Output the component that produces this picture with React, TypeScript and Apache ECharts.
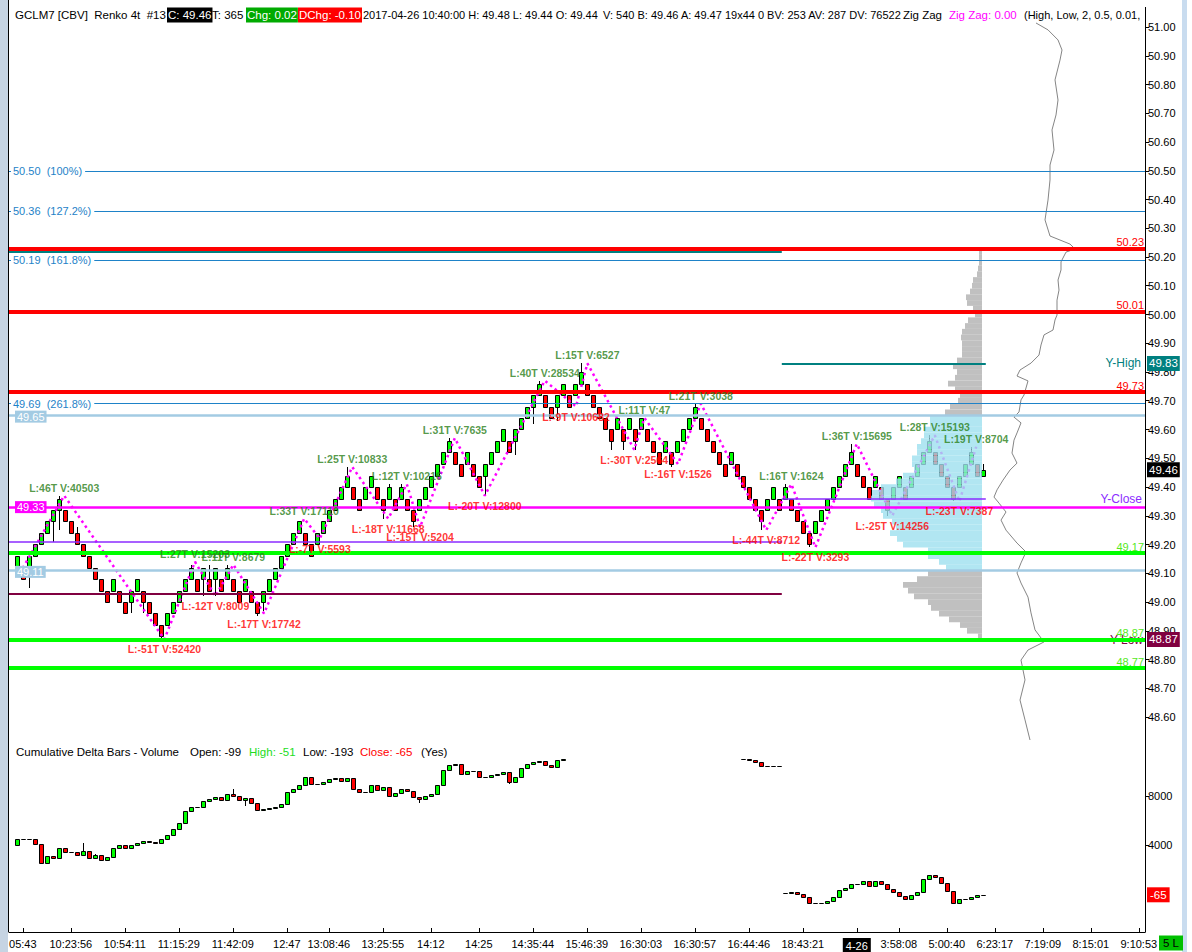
import React, { useEffect, useRef } from "react";
import * as echarts from "echarts";

const FONT = '"Liberation Sans", Arial, sans-serif';

// ---------------- data: price panel ----------------
const priceTicks = [51.0, 50.9, 50.8, 50.7, 50.6, 50.5, 50.4, 50.3, 50.2, 50.1, 50.0, 49.9, 49.8, 49.7, 49.6, 49.5, 49.4, 49.3, 49.2, 49.1, 49.0, 48.9, 48.8, 48.7, 48.6];

const BRICK = 0.04; // Renko 4 ticks
const firstOpen = 49.12;
const brickCloses = [
  49.16, 49.08, 49.16, 49.20, 49.24, 49.28, 49.32, 49.36, 49.28, 49.24,
  49.20, 49.16, 49.12, 49.08, 49.04, 49.00, 49.08, 49.00, 48.96, 49.04,
  49.08, 49.00, 48.96, 48.92, 48.88, 48.96, 49.00, 49.04, 49.08, 49.12,
  49.04, 49.12, 49.04, 49.12, 49.04, 49.12, 49.04, 49.00, 49.08, 49.00,
  48.96, 49.04, 49.08, 49.12, 49.16, 49.20, 49.24, 49.28, 49.20, 49.16,
  49.24, 49.28, 49.32, 49.36, 49.40, 49.44, 49.36, 49.32, 49.40, 49.44,
  49.36, 49.32, 49.40, 49.32, 49.40, 49.32, 49.28, 49.36, 49.40, 49.44,
  49.48, 49.52, 49.56, 49.48, 49.44, 49.52, 49.44, 49.40, 49.48, 49.52,
  49.56, 49.60, 49.52, 49.60, 49.64, 49.68, 49.72, 49.76, 49.68, 49.64,
  49.72, 49.76, 49.68, 49.76, 49.80, 49.72, 49.68, 49.64, 49.60, 49.56,
  49.64, 49.56, 49.64, 49.56, 49.64, 49.56, 49.52, 49.48, 49.56, 49.48,
  49.56, 49.60, 49.64, 49.68, 49.60, 49.56, 49.52, 49.48, 49.44, 49.52,
  49.44, 49.40, 49.36, 49.32, 49.28, 49.36, 49.40, 49.32, 49.40, 49.32,
  49.28, 49.24, 49.20, 49.28, 49.32, 49.36, 49.40, 49.44, 49.48, 49.52,
  49.44, 49.40, 49.36, 49.44, 49.36, 49.32, 49.40, 49.44, 49.36, 49.44,
  49.48, 49.52, 49.56, 49.48, 49.44, 49.40, 49.36, 49.44, 49.48, 49.52,
  49.44,
];
const lastBar = { open: 49.44, high: 49.48, low: 49.44, close: 49.46 };
const wickHigh = [[8, 49.37], [11, 49.26], [30, 49.13], [33, 49.13], [36, 49.13], [56, 49.47], [63, 49.41], [65, 49.41], [73, 49.57], [88, 49.77], [95, 49.83], [114, 49.69], [129, 49.41], [140, 49.55], [153, 49.58], [160, 49.54]];
const wickLow = [[3, 49.05], [7, 49.21], [8, 49.25], [20, 48.96], [22, 48.96], [25, 48.87], [32, 49.02], [34, 49.02], [41, 48.95], [42, 48.97], [62, 49.29], [67, 49.26], [79, 49.37], [84, 49.51], [87, 49.62], [91, 49.63], [100, 49.53], [102, 49.53], [104, 49.53], [110, 49.47], [125, 49.25], [133, 49.19], [146, 49.30], [157, 49.35]];

// zig zag swing points (bar position, price, label)
const zzIdx = [1.5, 8.9, 25.6, 30.7, 34.1, 37.1, 42.2, 48.9, 51.5, 56.9, 62.9, 66.0, 68.2, 74.0, 79.0, 89.0, 94.2, 96.1, 103.9, 105.6, 111.2, 115.0, 125.9, 130.1, 134.1, 141.0, 146.9, 154.0, 158.1, 160.9];
const zzPrice = [49.10, 49.37, 48.87, 49.14, 49.02, 49.13, 48.96, 49.29, 49.22, 49.47, 49.29, 49.41, 49.26, 49.57, 49.37, 49.77, 49.68, 49.83, 49.53, 49.64, 49.48, 49.69, 49.25, 49.41, 49.19, 49.55, 49.30, 49.58, 49.35, 49.54];
const zzText = ["", "L:46T V:40503", "L:-51T V:52420", "L:27T V:15203", "L:-12T V:8009", "L:11T V:8679", "L:-17T V:17742", "L:33T V:17110", "L:-7T V:5593", "L:25T V:10833", "L:-18T V:11668", "L:12T V:10216", "L:-15T V:5204", "L:31T V:7635", "L:-20T V:12800", "L:40T V:28534", "L:-9T V:10682", "L:15T V:6527", "L:-30T V:2564", "L:11T V:47", "L:-16T V:1526", "L:21T V:3038", "L:-44T V:8712", "L:16T V:1624", "L:-22T V:3293", "L:36T V:15695", "L:-25T V:14256", "L:28T V:15193", "L:-23T V:7387", "L:19T V:8704"];

// levels
const fibLevels = [50.50, 50.36, 50.19, 49.69];
const fibPct = ["100%", "127.2%", "161.8%", "261.8%"];
const redLevels = [50.23, 50.01, 49.73];
const greenLevels = [49.17, 48.87, 48.77];
const VAH = 49.65;
const VAL = 49.11;
const magentaLevel = 49.33;
const priorTeal = 50.22;
const priorPurple = 49.21;
const priorMaroon = 49.03;
const yHigh = 49.83;
const yClose = 49.36;
const yLow = 48.87;
const lastPrice = 49.46;

// volume profile
const PROFILE_STEP = 0.02;
const profilePrice = [
  50.22, 50.20, 50.18, 50.16, 50.14, 50.12, 50.10, 50.08, 50.06, 50.04,
  50.02, 50.00, 49.98, 49.96, 49.94, 49.92, 49.90, 49.88, 49.86, 49.84,
  49.82, 49.80, 49.78, 49.76, 49.74, 49.72, 49.70, 49.68, 49.66, 49.64,
  49.62, 49.60, 49.58, 49.56, 49.54, 49.52, 49.50, 49.48, 49.46, 49.44,
  49.42, 49.40, 49.38, 49.36, 49.34, 49.32, 49.30, 49.28, 49.26, 49.24,
  49.22, 49.20, 49.18, 49.16, 49.14, 49.12, 49.10, 49.08, 49.06, 49.04,
  49.02, 49.00, 48.98, 48.96, 48.94, 48.92, 48.90, 48.88,
];
const profileVol = [
  3, 3, 3, 4, 5, 9, 10, 12, 16, 15,
  9, 7, 14, 17, 20, 21, 20, 20, 20, 25,
  29, 25, 27, 34, 27, 22, 24, 32, 37, 52,
  52, 58, 58, 61, 65, 65, 70, 70, 68, 79,
  86, 101, 110, 111, 108, 101, 99, 90, 86, 92,
  85, 79, 54, 54, 43, 36, 54, 65, 79, 74,
  68, 54, 51, 43, 33, 22, 15, 4,
];

// right-hand line study (horizontal position, price)
const squiggleX = [1036, 1048, 1058, 1062, 1060, 1055, 1058, 1056, 1052, 1054, 1050, 1050, 1048, 1045, 1050, 1070, 1075, 1066, 1061, 1061, 1058, 1059, 1057, 1057, 1055, 1053, 1044, 1041, 1039, 1031, 1020, 1017, 1028, 1024, 1021, 1019, 1014, 1021, 1017, 1014, 1012, 1017, 1010, 1003, 997, 994, 999, 1006, 1001, 1006, 1017, 1026, 1021, 1017, 1021, 1028, 1031, 1035, 1044, 1028, 1021, 1025, 1020, 1025, 1030];
const squiggleP = [51.014, 50.990, 50.955, 50.920, 50.885, 50.816, 50.746, 50.694, 50.642, 50.572, 50.520, 50.468, 50.398, 50.329, 50.273, 50.245, 50.228, 50.217, 50.183, 50.155, 50.120, 50.085, 50.050, 49.998, 49.981, 49.946, 49.929, 49.894, 49.859, 49.831, 49.807, 49.786, 49.769, 49.720, 49.703, 49.661, 49.643, 49.623, 49.588, 49.563, 49.518, 49.483, 49.459, 49.424, 49.390, 49.365, 49.344, 49.313, 49.285, 49.250, 49.205, 49.174, 49.136, 49.101, 49.066, 49.017, 48.962, 48.903, 48.861, 48.833, 48.798, 48.729, 48.659, 48.590, 48.520];

// ---------------- data: cumulative delta panel ----------------
const deltaTicks = [4000, 8000];
const deltaClose = [
  4470, 4490, 4450, 4080, 2500, 3100, 2920, 3730, 3460, 3460,
  3160, 3510, 2970, 3160, 2780, 3000, 3790, 3980, 3790, 3980,
  4200, 4300, 4280, 4150, 4520, 4850, 5290, 5780, 6760, 7090,
  7140, 7630, 7740, 7900, 7690, 8180, 8010, 7690, 7820, 7410,
  6870, 6920, 7000, 7090, 7360, 8310, 8590, 8860, 9540, 9000,
  9000, 9130, 9410, 9510, 9220, 9460, 8560, 8340, 8340, 8880,
  8500, 8700, 7990, 8210, 8610, 8420, 7880, 7770, 8000, 8180,
  8860, 10140, 10490, 10600, 9810, 10060, 10060, 9540, 9590, 9730,
  9810, 9950, 9130, 9540, 10280, 10600, 10740, 10880, 10550, 10330,
  10930, 11040,
  null, null, null, null, null, null, null, null, null, null,
  null, null, null, null, null, null, null, null, null, null,
  null, null, null, null, null, null, null, null, null,
  11000, 10960, 10800, 10450, 10450, 10420, 10450,
  80, 140, -20, -270, -710, -710, -760, -590, -270, 300,
  460, 790, 790, 1060, 680, 1060, 790, 380, 140, -190,
  -430, -110, 140, 1200, 1530, 1370, 880, 220, -760, -430,
  -380, -270, -110, -65,
];
const deltaOpenOverride = [[1, 3980], [122, 11000], [129, 80], [162, -99]];
const deltaWick = [[12, 3160, 4140], [37, 8010, 8570], [39, 7180, 7820], [68, 7400, 7880], [79, 9440, 9590], [83, 8980, 10000], [14, 2980, 3250]];
const deltaLast = -65;

// ---------------- time axis ----------------
const xTickIdx = [2, 10, 19, 28, 37, 46, 53, 62, 70, 78, 87, 96, 105, 114, 123, 132, 141, 148, 156, 164, 172, 180, 188];
const xTickText = ["05:43", "10:23:56", "10:54:11", "11:15:29", "11:42:09", "12:47", "13:08:46", "13:25:55", "14:12", "14:25", "14:35:44", "15:46:39", "16:30:03", "16:30:57", "16:44:46", "18:43:21", "4-26", "3:58:08", "5:00:40", "6:23:17", "7:19:09", "8:15:01", "9:10:53"];

// ---------------- layout ----------------
const W = 1192;
const H = 952;
const PLOT_L = 9;
const PLOT_R = 1145;
const PRICE_TOP = 10;
const PRICE_BOT = 742;
const REF_PRICE = 51;
const REF_Y = 27;
const PX_PER_UNIT = 287.5;
const priceMax = REF_PRICE + (REF_Y - PRICE_TOP) / PX_PER_UNIT;
const priceMin = REF_PRICE - (PRICE_BOT - REF_Y) / PX_PER_UNIT;
const BAR_PX = 6;
const FIRST_BAR_X = 16.8;
const xMin = 1 - (FIRST_BAR_X - PLOT_L) / BAR_PX;
const xMax = xMin + (PLOT_R - PLOT_L) / BAR_PX;
const SESSION_SPLIT = 128.5;
const SESSION_END = 162.5;
const PROFILE_RIGHT = 982;
const DELTA_TOP = 745;
const DELTA_BOT = 932;
const DELTA_REF_V = 8000;
const DELTA_REF_Y = 796;
const DELTA_PX = 12.25 / 1000;
const deltaMax = DELTA_REF_V + (DELTA_REF_Y - DELTA_TOP) / DELTA_PX;
const deltaMin = DELTA_REF_V - (DELTA_BOT - DELTA_REF_Y) / DELTA_PX;

const UP = "#00ff00";
const DOWN = "#ff0000";
const FIB = "#1e82c8";
const VA_BLUE = "#a3cbe3";
const MAGENTA = "#ff00ff";
const PURPLE = "#8b2bff";
const MAROON = "#800040";
const TEAL = "#008080";
const LIME_TXT = "#55e81a";
const HIGH_TXT = "#2a8018";
const CLEAR = "rgba(0,0,0,0)";

const r2 = (v: number) => Math.round(v * 100) / 100;

function buildPriceBars() {
  const bars: number[][] = [];
  brickCloses.forEach((c, k) => {
    const o = k === 0 ? firstOpen : r2(c > brickCloses[k - 1] ? c - BRICK : c + BRICK);
    bars.push([k + 1, o, c, Math.min(o, c), Math.max(o, c)]);
  });
  bars.push([brickCloses.length + 1, lastBar.open, lastBar.close, lastBar.low, lastBar.high]);
  wickHigh.forEach(([i, p]) => { const b = bars[i - 1]; b[4] = Math.max(b[4], p); });
  wickLow.forEach(([i, p]) => { const b = bars[i - 1]; b[3] = Math.min(b[3], p); });
  return bars;
}

function buildDeltaBars() {
  const bars: number[][] = [];
  deltaClose.forEach((c, k) => {
    if (c === null) return;
    const idx = k + 1;
    const ov = deltaOpenOverride.find((d) => d[0] === idx);
    const prev = k > 0 ? deltaClose[k - 1] : null;
    const o = ov ? ov[1] : (prev === null ? c : prev);
    let lo = Math.min(o, c as number);
    let hi = Math.max(o, c as number);
    const w = deltaWick.find((d) => d[0] === idx);
    if (w) { lo = Math.min(lo, w[1]); hi = Math.max(hi, w[2]); }
    bars.push([idx, o, c as number, lo, hi]);
  });
  return bars;
}

function candleRenderer(params: any, api: any) {
  const i = api.value(0), o = api.value(1), c = api.value(2), lo = api.value(3), hi = api.value(4);
  const pO = api.coord([i, o]);
  const pC = api.coord([i, c]);
  const pL = api.coord([i, lo]);
  const pH = api.coord([i, hi]);
  const cx = Math.round(pO[0]);
  const yT = Math.round(Math.min(pO[1], pC[1]));
  const yB = Math.round(Math.max(pO[1], pC[1]));
  return {
    type: "group",
    children: [
      { type: "line", shape: { x1: cx + 0.5, y1: Math.round(pH[1]), x2: cx + 0.5, y2: Math.round(pL[1]) }, style: { stroke: "#000", lineWidth: 1 } },
      { type: "rect", shape: { x: cx - 1.5, y: yT + 0.5, width: 4, height: Math.max(yB - yT, 0) }, style: { fill: c >= o ? UP : DOWN, stroke: "#000", lineWidth: 1 } },
    ],
  };
}

function profileRenderer(params: any, api: any) {
  const v = api.value(0), p = api.value(1);
  const a = api.coord([v, p + PROFILE_STEP / 2]);
  const b = api.coord([0, p - PROFILE_STEP / 2]);
  const inVA = p - PROFILE_STEP / 2 >= VAL - 1e-6 && p + PROFILE_STEP / 2 <= VAH + 1e-6;
  return {
    type: "rect",
    shape: { x: a[0], y: a[1], width: b[0] - a[0], height: b[1] - a[1] },
    style: { fill: inVA ? "#9de0ef" : "#b0b0b0", opacity: 0.8 },
  };
}

const hline = (p: number, color: string, width: number, label?: any) => ({
  yAxis: p,
  lineStyle: { color, width, type: "solid" },
  label: label || { show: false },
});
const seg = (x1: number, x2: number, p: number, color: string, width: number) => [
  { coord: [x1, p], lineStyle: { color, width, type: "solid" }, label: { show: false } },
  { coord: [x2, p] },
];
const levelLabel = (p: number, color: string) => ({
  show: true, position: "insideEndTop", formatter: p.toFixed(2), color, fontSize: 11, fontFamily: FONT, distance: 1,
});
const axisBox = (p: number, bg: string, text: string) => ({
  yAxis: p,
  lineStyle: { color: CLEAR, width: 1, type: "solid" },
  label: { show: true, position: "end", formatter: text, color: "#fff", backgroundColor: bg, padding: [2, 2, 1, 2], fontSize: 11.5, fontFamily: FONT, distance: 2 },
});

function buildOption() {
  const priceBars = buildPriceBars();
  const deltaBars = buildDeltaBars();
  const markData: any[] = [
    ...fibLevels.map((p) => hline(p, FIB, 1)),
    hline(VAH, VA_BLUE, 2.5),
    hline(VAL, VA_BLUE, 2.5),
    seg(xMin, SESSION_SPLIT, priorTeal, TEAL, 2),
    seg(xMin, SESSION_SPLIT, priorPurple, PURPLE, 1.5),
    seg(xMin, SESSION_SPLIT, priorMaroon, MAROON, 2),
    seg(SESSION_SPLIT, SESSION_END, yHigh, TEAL, 2),
    seg(SESSION_SPLIT, SESSION_END, yClose, PURPLE, 1.5),
    hline(magentaLevel, MAGENTA, 2.5),
    ...redLevels.map((p) => hline(p, "#ff0000", 4, levelLabel(p, "#ff0000"))),
    ...greenLevels.map((p) => hline(p, "#00ff00", 4, levelLabel(p, LIME_TXT))),
    axisBox(yHigh, TEAL, yHigh.toFixed(2)),
    axisBox(lastPrice, "#000", lastPrice.toFixed(2)),
    axisBox(yLow, MAROON, yLow.toFixed(2)),
  ];
  const axisFont = { color: "#000", fontSize: 11, fontFamily: FONT };
  return {
    animation: false,
    backgroundColor: "#fff",
    grid: [
      { left: PLOT_L, right: W - PLOT_R, top: PRICE_TOP, height: PRICE_BOT - PRICE_TOP },
      { left: PLOT_L, right: W - PROFILE_RIGHT, top: PRICE_TOP, height: PRICE_BOT - PRICE_TOP },
      { left: PLOT_L, right: W - PLOT_R, top: DELTA_TOP, height: DELTA_BOT - DELTA_TOP },
    ],
    xAxis: [
      { gridIndex: 0, type: "value", min: xMin, max: xMax, show: false },
      { gridIndex: 1, type: "value", min: 0, max: PROFILE_RIGHT - PLOT_L, inverse: true, show: false },
      { gridIndex: 0, type: "value", min: PLOT_L, max: PLOT_R, show: false },
      {
        gridIndex: 2, type: "value", min: xMin, max: xMax, position: "bottom",
        axisLine: { show: true, onZero: false, lineStyle: { color: "#000", width: 1 } },
        axisTick: { show: true, inside: true, length: 4, customValues: xTickIdx, lineStyle: { color: "#000" } },
        axisLabel: {
          ...axisFont, margin: 6, customValues: xTickIdx,
          formatter: (v: number) => {
            const k = xTickIdx.findIndex((t) => Math.abs(t - v) < 1e-6);
            const s = k >= 0 ? xTickText[k] : "";
            return s === "4-26" ? "{d|4-26}" : s;
          },
          rich: { d: { backgroundColor: "#000", color: "#fff", padding: [2, 3, 1, 3], fontSize: 11, fontFamily: FONT } },
        },
        splitLine: { show: false },
      },
    ],
    yAxis: [
      {
        gridIndex: 0, type: "value", position: "right", min: priceMin, max: priceMax,
        axisLine: { show: true, onZero: false, lineStyle: { color: "#000" } },
        axisTick: { show: true, customValues: priceTicks, length: 4, lineStyle: { color: "#000" } },
        axisLabel: { ...axisFont, margin: 3, customValues: priceTicks, formatter: (v: number) => v.toFixed(2) },
        splitLine: { show: false },
      },
      { gridIndex: 1, type: "value", min: priceMin, max: priceMax, show: false },
      {
        gridIndex: 2, type: "value", position: "right", min: deltaMin, max: deltaMax,
        axisLine: { show: true, onZero: false, lineStyle: { color: "#000" } },
        axisTick: { show: true, customValues: deltaTicks, length: 4, lineStyle: { color: "#000" } },
        axisLabel: { ...axisFont, margin: 3, customValues: deltaTicks, formatter: (v: number) => String(Math.round(v)) },
        splitLine: { show: false },
      },
    ],
    series: [
      { type: "custom", name: "bars", xAxisIndex: 0, yAxisIndex: 0, z: 2, renderItem: candleRenderer, data: priceBars, encode: { x: 0, y: [1, 2, 3, 4] }, silent: true },
      {
        type: "line", name: "zigzag", xAxisIndex: 0, yAxisIndex: 0, z: 2, symbol: "none", silent: true,
        data: zzIdx.map((x, k) => [x, zzPrice[k]]),
        lineStyle: { color: MAGENTA, width: 2.5, type: [2.5, 3.5] },
      },
      { type: "custom", name: "profile", xAxisIndex: 1, yAxisIndex: 1, z: 3, renderItem: profileRenderer, data: profilePrice.map((p, k) => [profileVol[k], p]), silent: true },
      {
        type: "line", name: "levels", xAxisIndex: 0, yAxisIndex: 0, z: 4, data: [], silent: true,
        markLine: { silent: true, symbol: ["none", "none"], animation: false, data: markData },
      },
      {
        type: "line", name: "study", xAxisIndex: 2, yAxisIndex: 0, z: 4, symbol: "none", silent: true,
        data: squiggleX.map((x, k) => [x, squiggleP[k]]),
        lineStyle: { color: "#858585", width: 1 },
      },
      {
        type: "scatter", name: "zzLabels", xAxisIndex: 0, yAxisIndex: 0, z: 6, symbolSize: 1, silent: true,
        itemStyle: { color: CLEAR },
        data: zzIdx.map((x, k) => {
          const low = zzText[k].includes("-");
          return {
            value: [x, zzPrice[k]],
            label: {
              show: zzText[k] !== "", formatter: zzText[k], position: low ? "bottom" : "top", distance: low ? 4 : 2,
              color: low ? "#ff0000" : HIGH_TXT, fontSize: 10.5, fontWeight: "bold", fontFamily: FONT,
            },
          };
        }),
      },
      { type: "custom", name: "delta", xAxisIndex: 3, yAxisIndex: 2, z: 2, renderItem: candleRenderer, data: deltaBars, encode: { x: 0, y: [1, 2, 3, 4] }, silent: true },
      {
        type: "line", name: "deltaLast", xAxisIndex: 3, yAxisIndex: 2, z: 4, data: [], silent: true,
        markLine: {
          silent: true, symbol: ["none", "none"], animation: false,
          data: [{
            yAxis: deltaLast, lineStyle: { color: CLEAR, width: 1, type: "solid" },
            label: { show: true, position: "end", formatter: String(deltaLast), color: "#fff", backgroundColor: "#ff0000", padding: [2, 3, 1, 3], fontSize: 11.5, fontFamily: FONT, distance: 2 },
          }],
        },
      },
    ],
  };
}

function text(x: number, y: number, t: string, fill: string, o: any = {}) {
  return {
    type: "text", x, y, z: o.z ?? 100,
    style: {
      text: t, fill, font: `${o.weight || "normal"} ${o.size || 12}px ${FONT}`,
      align: o.align || "left", verticalAlign: "middle",
      backgroundColor: o.bg, padding: o.pad,
    },
  };
}

function buildGraphics(py: (p: number) => number) {
  const g: any[] = [];
  g.push({ type: "rect", z: 100, shape: { x: 0, y: 0, width: 8, height: H }, style: { fill: "#c6d4e3" } });
  g.push({ type: "line", z: 100, shape: { x1: 8.5, y1: 0, x2: 8.5, y2: DELTA_BOT }, style: { stroke: "#000", lineWidth: 1 } });
  g.push({ type: "line", z: 100, shape: { x1: PLOT_R + 0.5, y1: 7, x2: PLOT_R + 0.5, y2: DELTA_BOT }, style: { stroke: "#000", lineWidth: 1 } });
  g.push({ type: "rect", z: 100, shape: { x: 1182, y: 0, width: 5, height: H }, style: { fill: "#c9dcef" } });

  // header
  const HY = 15;
  const HS = 11.5;
  g.push(text(15, HY, "GCLM7 [CBV]  Renko 4t  #13", "#000", { size: HS }));
  g.push(text(167, HY, "C: 49.46", "#fff", { size: HS, bg: "#000", pad: [2, 1, 1, 1] }));
  g.push(text(212, HY, "T: 365", "#000", { size: HS }));
  g.push(text(246, HY, "Chg: 0.02", "#fff", { size: HS, bg: "#00aa00", pad: [2, 1, 1, 1] }));
  g.push(text(298, HY, "DChg: -0.10", "#fff", { size: HS, bg: "#ff0000", pad: [2, 1, 1, 1] }));
  g.push(text(363, HY, "2017-04-26 10:40:00 H: 49.48 L: 49.44 O: 49.44", "#000", { size: 11 }));
  g.push(text(603, HY, "V: 540 B: 49.46 A: 49.47 19x44 0 BV: 253 AV: 287 DV: 76522", "#000", { size: 11 }));
  g.push(text(903, HY, "Zig Zag", "#000", { size: HS }));
  g.push(text(949, HY, "Zig Zag: 0.00", MAGENTA, { size: HS }));
  g.push(text(1024, HY, "(High, Low, 2, 0.5, 0.01,", "#000", { size: 11 }));

  // delta header
  const DY = 752;
  g.push(text(16, DY, "Cumulative Delta Bars - Volume", "#000", { size: 11.5 }));
  g.push(text(190, DY, "Open: -99", "#000", { size: 11.5 }));
  g.push(text(249, DY, "High: -51", "#22dd22", { size: 11.5 }));
  g.push(text(303, DY, "Low: -193", "#000", { size: 11.5 }));
  g.push(text(360, DY, "Close: -65", "#ff0000", { size: 11.5 }));
  g.push(text(421, DY, "(Yes)", "#000", { size: 11.5 }));

  // bottom-right status box
  g.push(text(1159, 943, "5 L", "#000", { size: 11.5, bg: "#00c000", pad: [2, 4, 1, 4] }));

  // fib labels
  fibLevels.forEach((p, k) => {
    g.push(text(11, py(p), `${p.toFixed(2)}  (${fibPct[k]})`, FIB, { size: 11, bg: "#fff", pad: [0, 3, 0, 2], z: 50 }));
  });
  // left boxes
  g.push(text(15, py(VAH) + 1.5, VAH.toFixed(2), "#fff", { size: 11, bg: VA_BLUE, pad: [1, 2, 0, 2], z: 50 }));
  g.push(text(15, py(VAL) + 1.5, VAL.toFixed(2), "#fff", { size: 11, bg: VA_BLUE, pad: [1, 2, 0, 2], z: 50 }));
  g.push(text(15, py(magentaLevel), magentaLevel.toFixed(2), "#fff", { size: 11, bg: MAGENTA, pad: [1, 2, 0, 2], z: 50 }));
  // right labels
  g.push(text(PLOT_R - 4, py(yHigh), "Y-High", TEAL, { size: 12, align: "right", z: 50 }));
  g.push(text(PLOT_R - 3, py(yClose), "Y-Close", PURPLE, { size: 12, align: "right", z: 50 }));
  g.push(text(PLOT_R - 2, py(yLow) + 1, "Y-Low", MAROON, { size: 12, align: "right", z: 1 }));
  return g;
}

export default function App() {
  const ref = useRef<HTMLDivElement>(null);
  useEffect(() => {
    if (!ref.current) return;
    const chart = echarts.init(ref.current, null, { renderer: "svg" });
    chart.setOption(buildOption() as any);
    const py = (p: number) => chart.convertToPixel({ yAxisIndex: 0 }, p) as number;
    chart.setOption({ graphic: buildGraphics(py) } as any);
    return () => chart.dispose();
  }, []);
  return <div ref={ref} style={{ position: "absolute", left: 0, top: 0, width: W, height: H, background: "#fff" }} />;
}
